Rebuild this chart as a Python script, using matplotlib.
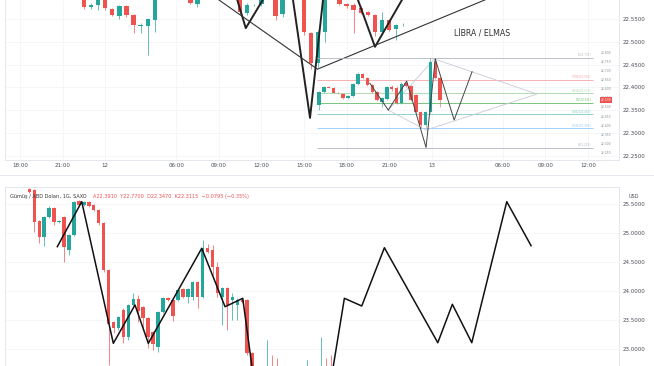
import matplotlib
matplotlib.use('Agg')
import matplotlib.pyplot as plt
from matplotlib.lines import Line2D
from matplotlib import transforms

W, H = 654, 366
UP = '#26a69a'
DOWN = '#ef5350'
GRID = '#f2f3f6'
FRAME = '#e0e3eb'
TXT = '#4a4d57'

# ---- top chart (30 min bars), x = bar slot, y = price
top_ticks = [0, 6, 12, 22, 28, 34, 40, 46, 52, 58, 68, 74, 80]
top_tick_labels = ['18:00', '21:00', '12', '06:00', '09:00', '12:00', '15:00',
                   '18:00', '21:00', '13', '06:00', '09:00', '12:00']
top_x = [9, 10, 11, 12, 13, 14, 15, 16, 17, 18, 19, 24, 25, 31, 32, 33, 34, 36, 37,
         40, 41, 42, 43, 45, 46, 47, 48, 49, 50, 51, 52, 53, 54]
top_o = [22.600, 22.576, 22.581, 22.600, 22.572, 22.557, 22.579, 22.559, 22.535, 22.535, 22.548,
         22.600, 22.583, 22.600, 22.563, 22.580, 22.582, 22.600, 22.561,
         22.600, 22.519, 22.453, 22.521, 22.600, 22.583, 22.581, 22.574, 22.565, 22.559,
         22.521, 22.548, 22.528, 22.538]
top_h = [22.610, 22.585, 22.610, 22.610, 22.575, 22.581, 22.581, 22.561, 22.541, 22.552, 22.610,
         22.610, 22.610, 22.610, 22.585, 22.583, 22.610, 22.610, 22.610,
         22.610, 22.522, 22.525, 22.610, 22.610, 22.586, 22.585, 22.578, 22.568, 22.562,
         22.565, 22.551, 22.540, 22.542]
top_l = [22.573, 22.572, 22.570, 22.570, 22.556, 22.551, 22.555, 22.519, 22.519, 22.471, 22.521,
         22.582, 22.576, 22.560, 22.558, 22.578, 22.578, 22.548, 22.555,
         22.515, 22.440, 22.445, 22.500, 22.580, 22.575, 22.519, 22.560, 22.556, 22.512,
         22.517, 22.524, 22.505, 22.535]
top_c = [22.576, 22.581, 22.600, 22.574, 22.559, 22.579, 22.559, 22.537, 22.536, 22.550, 22.600,
         22.585, 22.600, 22.565, 22.581, 22.581, 22.600, 22.557, 22.600,
         22.522, 22.453, 22.521, 22.600, 22.583, 22.579, 22.570, 22.563, 22.559, 22.521,
         22.548, 22.526, 22.537, 22.540]
top_yticks = [22.25, 22.30, 22.35, 22.40, 22.45, 22.50, 22.55]

# hand drawn zigzags on the top chart
v1_x, v1_y = [30.6, 31.8, 34.2], [22.592, 22.530, 22.592]
v2_x, v2_y = [38.45, 40.85, 42.68], [22.592, 22.333, 22.592]
v3_x, v3_y = [47.6, 50.0, 53.8], [22.592, 22.489, 22.592]
trend_x, trend_y = [28.0, 41.9, 65.5], [22.592, 22.440, 22.592]

# ---- inset (pasted hourly chart with fibonacci levels)
in_o = [22.511, 22.583, 22.611, 22.606, 22.578, 22.572, 22.550, 22.561, 22.628, 22.683, 22.661,
        22.622, 22.583, 22.530, 22.544, 22.611, 22.606, 22.522, 22.633, 22.617, 22.567,
        22.472, 22.400, 22.472, 22.750, 22.661]
in_h = [22.590, 22.617, 22.614, 22.609, 22.581, 22.575, 22.564, 22.633, 22.694, 22.689, 22.665,
        22.628, 22.589, 22.556, 22.617, 22.622, 22.617, 22.639, 22.644, 22.622, 22.572,
        22.478, 22.478, 22.772, 22.772, 22.667]
in_l = [22.483, 22.578, 22.603, 22.575, 22.572, 22.547, 22.545, 22.556, 22.622, 22.656, 22.617,
        22.578, 22.533, 22.500, 22.539, 22.590, 22.517, 22.517, 22.611, 22.533, 22.467,
        22.389, 22.389, 22.467, 22.656, 22.500]
in_c = [22.583, 22.611, 22.606, 22.578, 22.575, 22.550, 22.561, 22.628, 22.683, 22.661, 22.622,
        22.583, 22.539, 22.550, 22.611, 22.600, 22.522, 22.628, 22.617, 22.539, 22.472,
        22.400, 22.472, 22.750, 22.661, 22.539]
in_zz_x = [10.5, 14.3, 18.1, 22.1, 24.0, 27.9, 31.6]
in_zz_y = [22.632, 22.483, 22.644, 22.275, 22.767, 22.428, 22.696]
diamond_x = [14.3, 23.8, 45.0, 22.1, 14.3]
diamond_y = [22.483, 22.767, 22.572, 22.372, 22.483]
fib_levels = [22.774, 22.650, 22.576, 22.521, 22.459, 22.382, 22.274]
fib_labels = ['1(22.774)', '0.786(22.650)', '0.618(22.576)', '0.5(22.521)',
              '0.382(22.459)', '0.236(22.382)', '0(22.274)']
fib_colors = ['#b2b5be', '#f5a3a3', '#a5d6a7', '#66bb6a', '#80cbc4', '#90caf9', '#b2b5be']
in_yticks = [22.80, 22.75, 22.70, 22.65, 22.60, 22.55, 22.50, 22.45, 22.40, 22.35, 22.30, 22.25]
in_last = 22.539

# ---- bottom chart (daily silver)
bot_o = [25.765, 25.747, 25.211, 24.934, 25.280, 25.436, 25.200, 25.280, 24.709, 24.969, 25.557,
         25.488, 25.540, 25.488, 25.401, 25.176, 24.363, 23.464, 23.360, 23.671, 23.204, 23.758,
         23.862, 23.723, 23.533, 23.291, 23.031, 23.637, 23.879, 23.844, 23.844, 24.035, 23.896,
         23.896, 24.156, 23.896, 24.744, 24.709, 24.415, 23.896, 24.052, 23.844, 23.758, 23.844,
         23.844, 22.927, 22.50, 22.40, 22.55, 22.60, 22.60, 22.55, 22.40, 22.50, 22.35, 22.50,
         22.40, 22.55, 22.62, 22.45, 22.60, 22.65, 22.45, 22.40]
bot_h = [25.780, 25.760, 25.230, 25.290, 25.471, 25.450, 25.230, 25.290, 24.980, 25.560, 25.580,
         25.560, 25.560, 25.500, 25.420, 25.190, 24.380, 23.480, 23.570, 23.700, 23.770, 23.966,
         23.931, 23.740, 23.550, 23.310, 23.650, 23.900, 23.900, 23.860, 24.030, 24.060, 24.050,
         24.170, 24.170, 24.882, 24.813, 24.796, 24.502, 24.070, 24.070, 23.966, 23.880, 23.860,
         23.860, 22.940, 22.62, 22.60, 23.152, 22.893, 22.841, 22.66, 22.64, 22.60, 22.62, 22.65,
         22.806, 22.66, 22.68, 23.204, 22.841, 22.893, 22.60, 22.60]
bot_l = [25.700, 25.021, 24.830, 24.779, 25.260, 25.142, 25.180, 24.502, 24.623, 24.950, 25.470,
         25.470, 25.450, 25.380, 25.150, 24.330, 22.720, 23.274, 23.330, 23.100, 23.150, 23.740,
         23.464, 23.325, 23.014, 22.979, 22.945, 23.620, 23.830, 23.480, 23.820, 23.880, 23.800,
         23.850, 23.700, 23.880, 24.660, 24.277, 23.896, 23.412, 23.325, 23.498, 23.500, 23.790,
         22.900, 22.400, 22.30, 22.30, 22.45, 22.40, 22.35, 22.35, 22.30, 22.30, 22.20, 22.30,
         22.30, 22.40, 22.40, 22.35, 22.50, 22.40, 22.35, 22.30]
bot_c = [25.713, 25.194, 24.934, 25.280, 25.436, 25.194, 25.211, 24.762, 24.969, 25.540, 25.488,
         25.540, 25.471, 25.401, 25.176, 24.363, 23.429, 23.360, 23.550, 23.204, 23.758, 23.862,
         23.654, 23.533, 23.204, 23.083, 23.637, 23.879, 23.844, 23.568, 24.017, 23.896, 24.035,
         24.156, 23.896, 24.744, 24.675, 24.415, 23.966, 24.052, 23.758, 23.896, 23.844, 23.810,
         22.927, 22.50, 22.40, 22.55, 22.60, 22.45, 22.40, 22.50, 22.35, 22.50, 22.40, 22.55,
         22.62, 22.45, 22.60, 22.65, 22.45, 22.40, 22.35, 22.35]
bot_x = list(range(len(bot_o)))
bot_zz_x = [5.65, 10.58, 16.96, 21.34, 24.03, 34.82, 39.53, 43.1, 52.4, 63.63, 67.14,
            71.71, 82.5, 85.44, 89.36, 96.43, 101.34]
bot_zz_y = [24.767, 25.545, 23.095, 23.758, 23.095, 24.739, 23.728, 23.874, 17.98, 23.874,
            23.741, 24.749, 23.106, 23.770, 23.106, 25.545, 24.784]
bot_yticks = [23.0, 23.5, 24.0, 24.5, 25.0, 25.5]


def px_box(x0, y0, x1, y1):
    return [x0 / W, 1 - y1 / H, (x1 - x0) / W, (y1 - y0) / H]


def draw_candles(ax, x, o, h, l, c, width, min_body, lw=0.5):
    for xi, oi, hi, li, ci in zip(x, o, h, l, c):
        col = UP if ci >= oi else DOWN
        ax.vlines(xi, li, hi, color=col, lw=lw, zorder=2)
        ax.bar(xi, max(abs(ci - oi), min_body), width, bottom=min(oi, ci),
               color=col, linewidth=0, zorder=3)


def style_price_axis(ax):
    ax.yaxis.tick_right()
    ax.tick_params(axis='both', length=0, labelsize=4, colors=TXT, pad=2.5)
    ax.grid(color=GRID, lw=0.5, zorder=0)
    for s in ax.spines.values():
        s.set_color(FRAME)
        s.set_linewidth(0.6)


fig = plt.figure(figsize=(W / 100, H / 100), dpi=100)

# top chart
ax = fig.add_axes(px_box(5, 0, 619, 160))
ax.set_xlim(-2.113, 84.37)
ax.set_ylim(22.2408, 22.5917)
draw_candles(ax, top_x, top_o, top_h, top_l, top_c, 0.62, 0.0012)
ax.plot(v1_x, v1_y, color='#222', lw=1.4, zorder=5)
ax.plot(v2_x, v2_y, color='#222', lw=1.4, zorder=5)
ax.plot(v3_x, v3_y, color='#222', lw=1.4, zorder=5)
ax.plot(trend_x, trend_y, color='#333', lw=0.8, zorder=5)
ax.set_xticks(top_ticks)
ax.set_xticklabels(top_tick_labels)
ax.set_yticks(top_yticks)
ax.set_yticklabels(['%.4f' % v for v in top_yticks])
style_price_axis(ax)
ax.spines['top'].set_visible(False)

# inset
ax_in = fig.add_axes(px_box(310, 45, 598, 158))
ax_in.set_facecolor('none')
ax_in.set_xlim(-1.86, 57.6)
ax_in.set_ylim(22.2167, 22.8444)
ax_in.hlines(fib_levels, -0.4, 56.5, colors=fib_colors, lw=0.6, zorder=1)
for lev, lab, col in zip(fib_levels, fib_labels, fib_colors):
    ax_in.text(56.3, lev + 0.004, lab, ha='right', va='bottom', fontsize=2, color=col)
ax_in.plot(diamond_x, diamond_y, color='#c8cad8', lw=0.6, zorder=2)
draw_candles(ax_in, list(range(len(in_o))), in_o, in_h, in_l, in_c, 0.72, 0.003, lw=0.4)
ax_in.plot(in_zz_x, in_zz_y, color='#444', lw=0.7, zorder=5)
ax_in.set_xticks([])
ax_in.yaxis.tick_right()
ax_in.set_yticks(in_yticks)
ax_in.set_yticklabels(['%.3f' % v for v in in_yticks])
ax_in.tick_params(length=0, labelsize=2.2, colors='#8a8d96', pad=2)
for s in ax_in.spines.values():
    s.set_visible(False)
trans = transforms.blended_transform_factory(ax_in.transAxes, ax_in.transData)
ax_in.text(1.01, in_last, '%.3f' % in_last, transform=trans, fontsize=2.2, color='white',
           va='center', ha='left',
           bbox=dict(boxstyle='square,pad=0.3', fc=DOWN, ec='none'), zorder=6)

fig.text(482 / W, 1 - 34 / H, 'LİBRA / ELMAS', fontsize=5.7, color='#333',
         ha='center', va='center')
fig.add_artist(Line2D([0, 1], [1 - 175 / H] * 2, color=FRAME, lw=0.6))

# bottom chart
axb = fig.add_axes(px_box(5, 187, 619, 366))
axb.set_xlim(-4.92, 119.1)
axb.set_ylim(22.703, 25.799)
draw_candles(axb, bot_x, bot_o, bot_h, bot_l, bot_c, 0.7, 0.012)
axb.plot(bot_zz_x, bot_zz_y, color='#111', lw=1.1, zorder=5)
axb.set_xticks([])
axb.set_yticks(bot_yticks)
axb.set_yticklabels(['%.4f' % v for v in bot_yticks])
style_price_axis(axb)
axb.spines['bottom'].set_visible(False)

fig.text(10 / W, 1 - 196 / H, 'Gümüş / ABD Doları, 1G, SAXO', fontsize=3.6,
         color='#333', va='center')
fig.text(93 / W, 1 - 196 / H, 'A22.3910  Y22.7700  D22.3470  K22.3115  −0.0795 (−0.35%)',
         fontsize=3.6, color=DOWN, va='center')
fig.text(634 / W, 1 - 196 / H, 'USD', fontsize=3.6, color=TXT, va='center', ha='center')

fig.savefig('out.png', dpi=100)
